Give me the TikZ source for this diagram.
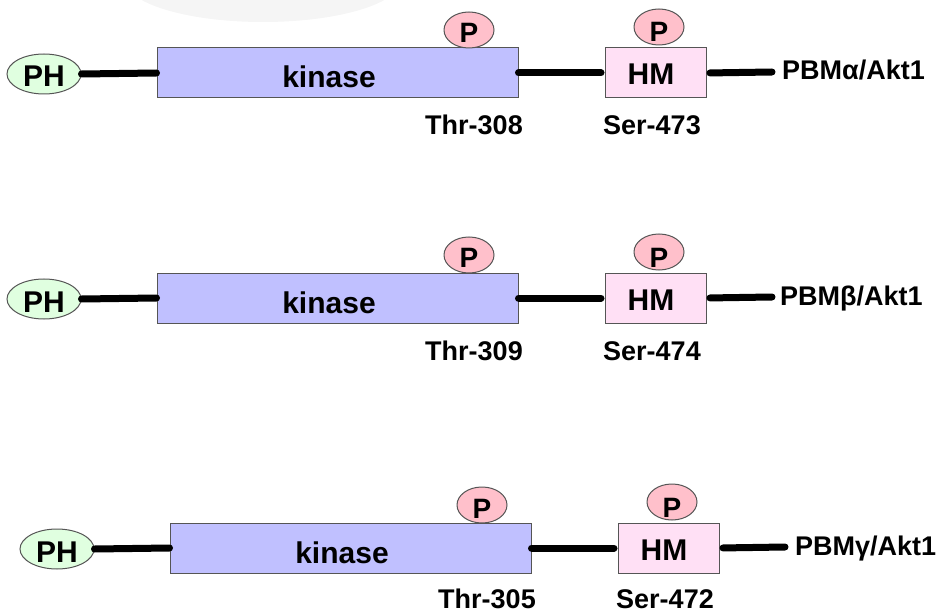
\documentclass[tikz,border=0pt]{standalone}
\usepackage{fontspec}
\setmainfont{Liberation Sans}
\usetikzlibrary{shapes.geometric}
\definecolor{kinfill}{RGB}{192,192,255}
\definecolor{hmfill}{RGB}{255,224,245}
\definecolor{pfill}{RGB}{255,192,203}
\definecolor{phfill}{RGB}{224,255,224}
\definecolor{edgegray}{RGB}{85,85,85}
\definecolor{fadegray}{RGB}{245,245,245}
\tikzset{
  phs/.style={ellipse, draw=edgegray, line width=1pt, fill=phfill, minimum width=74pt, minimum height=40pt, inner sep=0pt},
  kin/.style={rectangle, draw=edgegray, line width=1pt, fill=kinfill, minimum width=361pt, minimum height=50pt, inner sep=0pt},
  hm/.style={rectangle, draw=edgegray, line width=1pt, fill=hmfill, minimum width=101pt, minimum height=50pt, inner sep=0pt},
  psite/.style={ellipse, draw=edgegray, line width=1pt, fill=pfill, minimum width=50pt, minimum height=36pt, inner sep=0pt},
  boxtxt/.style={font=\fontsize{30}{32}\selectfont\bfseries, inner sep=0pt, anchor=base},
  ptxt/.style={font=\fontsize{28}{30}\selectfont\bfseries, inner sep=0pt, anchor=base},
  sidetxt/.style={font=\fontsize{27}{29}\selectfont\bfseries, inner sep=0pt, anchor=base},
  linker/.style={line width=7pt, line cap=round, black},
}
\newcommand\pbmrow[8]{%
\begin{scope}[shift={(#2,#3)}]
  \node[phs] (#1ph) at (44,74) {};
  \node[boxtxt] (#1pht) at (44,87) {PH};
  \node[kin] (#1kin) at (337.5,73) {};
  \node[boxtxt] (#1kint) at (329,88) {kinase};
  \node[hm] (#1hm) at (655.5,73) {};
  \node[boxtxt] (#1hmt) at (651,85) {HM};
  \node[psite] (#1pa) at (469,30) {};
  \node[ptxt] (#1pat) at (469,43) {P};
  \node[psite] (#1pb) at (659,27) {};
  \node[ptxt] (#1pbt) at (659,42) {P};
  \coordinate (#1end) at (772,72);
  \draw[linker] (#1ph.east) -- (#1kin.west);
  \draw[linker, shorten >=3.5pt] (#1kin.east) -- (#1hm.west);
  \draw[linker, shorten <=3.5pt] (#1hm.east) -- (#1end);
  \node[sidetxt, anchor=base west] (#1name) at (#7,80) {PBM#4/Akt1};
  \node[sidetxt] (#1thr) at (474,#8) {#5};
  \node[sidetxt] (#1ser) at (652,#8) {#6};
\end{scope}}
\begin{document}
\begin{tikzpicture}[x=1pt,y=-1pt]
\useasboundingbox (0,0) rectangle (947,612);
\fill[fadegray] (263,-20) ellipse [x radius=138, y radius=42];
\pbmrow{a}{0}{0}{α}{Thr-308}{Ser-473}{782}{135}
\pbmrow{b}{0}{225}{β}{Thr-309}{Ser-474}{780}{135}
\pbmrow{c}{13}{475}{γ}{Thr-305}{Ser-472}{782}{133}
\end{tikzpicture}
\end{document}
